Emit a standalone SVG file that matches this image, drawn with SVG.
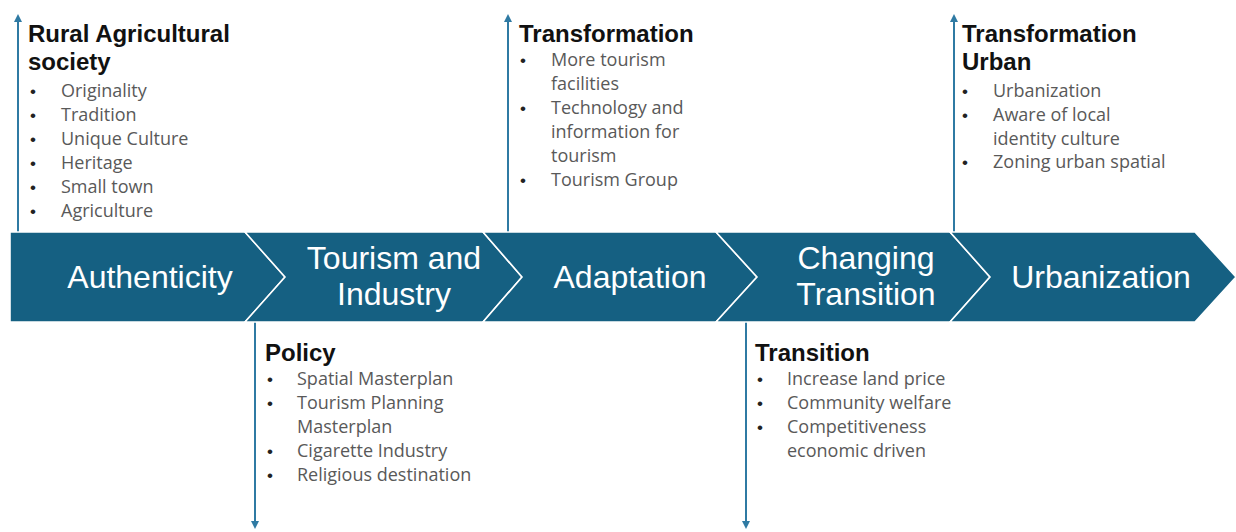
<svg xmlns="http://www.w3.org/2000/svg" width="1236" height="532" viewBox="0 0 1236 532">
<style>
.chev{fill:#156082;stroke:#ffffff;stroke-width:1.6;stroke-linejoin:miter}
.lbl{font-family:"Liberation Sans",Arial,sans-serif;font-size:32px;fill:#ffffff;text-anchor:middle}
.ttl{font-family:"Liberation Sans",Arial,sans-serif;font-size:24px;font-weight:bold;fill:#111111}
.bul{font-family:"Open Sans","Noto Sans",sans-serif;font-size:18px;fill:#595959}
.dot{font-family:"Liberation Sans",Arial,sans-serif;font-size:17px;fill:#222222}
.con{stroke:#2f7aa3;stroke-width:2;fill:none}
</style>
<defs>
<marker id="ah" viewBox="0 0 10 10" refX="5" refY="5" markerWidth="4" markerHeight="4" orient="auto-start-reverse" markerUnits="strokeWidth">
<path d="M0,0 L10,5 L0,10 z" fill="#2f7aa3"/>
</marker>
</defs>
<g id="connectors">
<line class="con" x1="18" y1="232" x2="18" y2="18" marker-end="url(#ah)"/>
<line class="con" x1="508" y1="232" x2="508" y2="18" marker-end="url(#ah)"/>
<line class="con" x1="954" y1="232" x2="954" y2="18" marker-end="url(#ah)"/>
<line class="con" x1="255" y1="322" x2="255" y2="525" marker-end="url(#ah)"/>
<line class="con" x1="746" y1="322" x2="746" y2="525" marker-end="url(#ah)"/>
</g>
<g id="authenticity">
<polygon class="chev" points="10,232 245,232 285,277 245,322 10,322"/>
<text class="lbl" x="150" y="288">Authenticity</text>
</g>
<g id="tourism-industry">
<polygon class="chev" points="245,232 483,232 522,277 483,322 245,322 285,277"/>
<text class="lbl" x="394" y="269">Tourism and</text>
<text class="lbl" x="394" y="305">Industry</text>
</g>
<g id="adaptation">
<polygon class="chev" points="483,232 716,232 757,277 716,322 483,322 522,277"/>
<text class="lbl" x="630" y="288">Adaptation</text>
</g>
<g id="changing-transition">
<polygon class="chev" points="716,232 950,232 990,277 950,322 716,322 757,277"/>
<text class="lbl" x="866" y="269">Changing</text>
<text class="lbl" x="866" y="305">Transition</text>
</g>
<g id="urbanization">
<polygon class="chev" points="950,232 1195,232 1236,277 1195,322 950,322 990,277"/>
<text class="lbl" x="1101" y="288">Urbanization</text>
</g>
<g id="rural">
<text class="ttl" x="28" y="42">Rural Agricultural</text>
<text class="ttl" x="28" y="70">society</text>
<text class="dot" x="30" y="97">•</text><text class="bul" x="61" y="97">Originality</text>
<text class="dot" x="30" y="121">•</text><text class="bul" x="61" y="121">Tradition</text>
<text class="dot" x="30" y="145">•</text><text class="bul" x="61" y="145">Unique Culture</text>
<text class="dot" x="30" y="169">•</text><text class="bul" x="61" y="169">Heritage</text>
<text class="dot" x="30" y="193">•</text><text class="bul" x="61" y="193">Small town</text>
<text class="dot" x="30" y="217">•</text><text class="bul" x="61" y="217">Agriculture</text>
</g>
<g id="transformation">
<text class="ttl" x="519" y="42">Transformation</text>
<text class="dot" x="520" y="66">•</text><text class="bul" x="551" y="66">More tourism</text>
<text class="bul" x="551" y="90">facilities</text>
<text class="dot" x="520" y="114">•</text><text class="bul" x="551" y="114">Technology and</text>
<text class="bul" x="551" y="138">information for</text>
<text class="bul" x="551" y="162">tourism</text>
<text class="dot" x="520" y="186">•</text><text class="bul" x="551" y="186">Tourism Group</text>
</g>
<g id="transformation-urban">
<text class="ttl" x="962" y="42">Transformation</text>
<text class="ttl" x="962" y="70">Urban</text>
<text class="dot" x="962" y="97">•</text><text class="bul" x="993" y="97">Urbanization</text>
<text class="dot" x="962" y="121">•</text><text class="bul" x="993" y="121">Aware of local</text>
<text class="bul" x="993" y="145">identity culture</text>
<text class="dot" x="962" y="168">•</text><text class="bul" x="993" y="168">Zoning urban spatial</text>
</g>
<g id="policy">
<text class="ttl" x="265" y="361">Policy</text>
<text class="dot" x="267" y="385">•</text><text class="bul" x="297" y="385">Spatial Masterplan</text>
<text class="dot" x="267" y="409">•</text><text class="bul" x="297" y="409">Tourism Planning</text>
<text class="bul" x="297" y="433">Masterplan</text>
<text class="dot" x="267" y="457">•</text><text class="bul" x="297" y="457">Cigarette Industry</text>
<text class="dot" x="267" y="481">•</text><text class="bul" x="297" y="481">Religious destination</text>
</g>
<g id="transition">
<text class="ttl" x="755" y="361">Transition</text>
<text class="dot" x="757" y="385">•</text><text class="bul" x="787" y="385">Increase land price</text>
<text class="dot" x="757" y="409">•</text><text class="bul" x="787" y="409">Community welfare</text>
<text class="dot" x="757" y="433">•</text><text class="bul" x="787" y="433">Competitiveness</text>
<text class="bul" x="787" y="457">economic driven</text>
</g>
</svg>
